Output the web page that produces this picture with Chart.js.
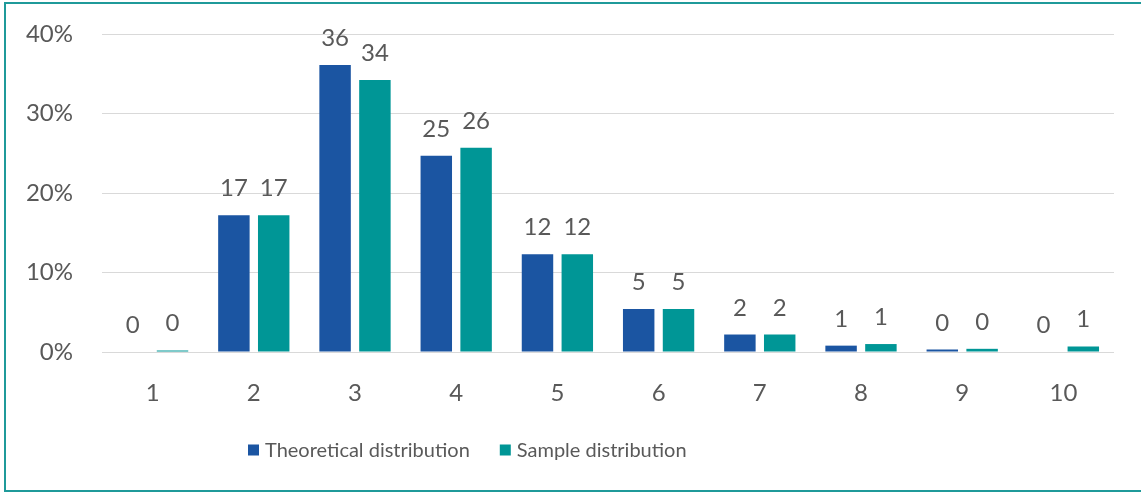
<!DOCTYPE html>
<html><head><meta charset="utf-8">
<script src="https://cdn.jsdelivr.net/npm/chart.js@4/dist/chart.umd.min.js"></script>
<style>
html,body{margin:0;padding:0;background:#fff;}
#wrap{position:relative;width:1141px;height:492px;overflow:hidden;}
#frame{position:absolute;left:4px;top:2px;width:1140px;height:490px;border-left:2px solid #1f9a9a;border-top:2px solid #1f9a9a;border-bottom:2px solid #1f9a9a;box-sizing:border-box;pointer-events:none;}
canvas{position:absolute;left:0;top:0;}
</style></head><body>
<div id="wrap"><canvas id="c" width="1141" height="492"></canvas><div id="frame"></div></div>
<script>
const categories = ['1','2','3','4','5','6','7','8','9','10'];
const theoretical = [0.0, 17.2, 36.1, 24.7, 12.3, 5.4, 2.2, 0.8, 0.3, 0.0];
const sample = [0.2, 17.2, 34.2, 25.7, 12.3, 5.4, 2.2, 1.0, 0.4, 0.7];
const seriesNames = ['Theoretical distribution', 'Sample distribution'];
const seriesColors = ['#1b55a2', '#009696'];
const yTickValues = [0, 10, 20, 30, 40];

const TEXT = '#595959';
const FONT = 'Lato, "Open Sans", sans-serif';

const dataLabels = {
  id: 'dataLabels',
  afterDatasetsDraw(chart) {
    const ctx = chart.ctx;
    ctx.save();
    ctx.font = '24px ' + FONT;
    ctx.fillStyle = TEXT;
    ctx.textAlign = 'center';
    ctx.textBaseline = 'alphabetic';
    chart.data.datasets.forEach((ds, i) => {
      const meta = chart.getDatasetMeta(i);
      meta.data.forEach((el, j) => {
        ctx.fillText(String(Math.round(ds.data[j])), el.x, el.y - 19);
      });
    });
    ctx.restore();
  }
};

const customLegend = {
  id: 'customLegend',
  afterDraw(chart) {
    const ctx = chart.ctx;
    ctx.save();
    ctx.font = '20px ' + FONT;
    ctx.textBaseline = 'middle';
    ctx.textAlign = 'left';
    const box = 11, gapText = 6, gapItem = 30, cy = 450;
    let x = 248;
    chart.data.datasets.forEach(ds => {
      ctx.fillStyle = ds.backgroundColor;
      ctx.fillRect(x, cy - box / 2, box, box);
      ctx.fillStyle = TEXT;
      ctx.fillText(ds.label, x + box + gapText, cy + 1);
      x += box + gapText + ctx.measureText(ds.label).width + gapItem;
    });
    ctx.restore();
  }
};

new Chart(document.getElementById('c'), {
  type: 'bar',
  data: {
    labels: categories,
    datasets: [
      {label: seriesNames[0], data: theoretical, backgroundColor: seriesColors[0], categoryPercentage: 0.787, barPercentage: 0.79},
      {label: seriesNames[1], data: sample, backgroundColor: seriesColors[1], categoryPercentage: 0.787, barPercentage: 0.79}
    ]
  },
  options: {
    responsive: false,
    animation: false,
    layout: {padding: {top: 34, right: 27, left: 0, bottom: 70}},
    plugins: {legend: {display: false}, tooltip: {enabled: false}},
    scales: {
      x: {
        grid: {display: false, drawTicks: false},
        border: {display: false},
        ticks: {font: {family: FONT, size: 24}, color: TEXT, padding: 27},
        afterFit(s) { s.height = 70; }
      },
      y: {
        min: 0, max: 40,
        afterBuildTicks(s) { s.ticks = yTickValues.map(v => ({value: v})); },
        grid: {color: '#d9d9d9', lineWidth: 1, drawTicks: true, tickLength: 29, tickColor: 'rgba(0,0,0,0)'},
        border: {display: false},
        ticks: {font: {family: FONT, size: 24}, color: TEXT, padding: 0, callback: v => v + '%'},
        afterFit(s) { s.width = 102; }
      }
    }
  },
  plugins: [dataLabels, customLegend]
});
</script>
</body></html>
